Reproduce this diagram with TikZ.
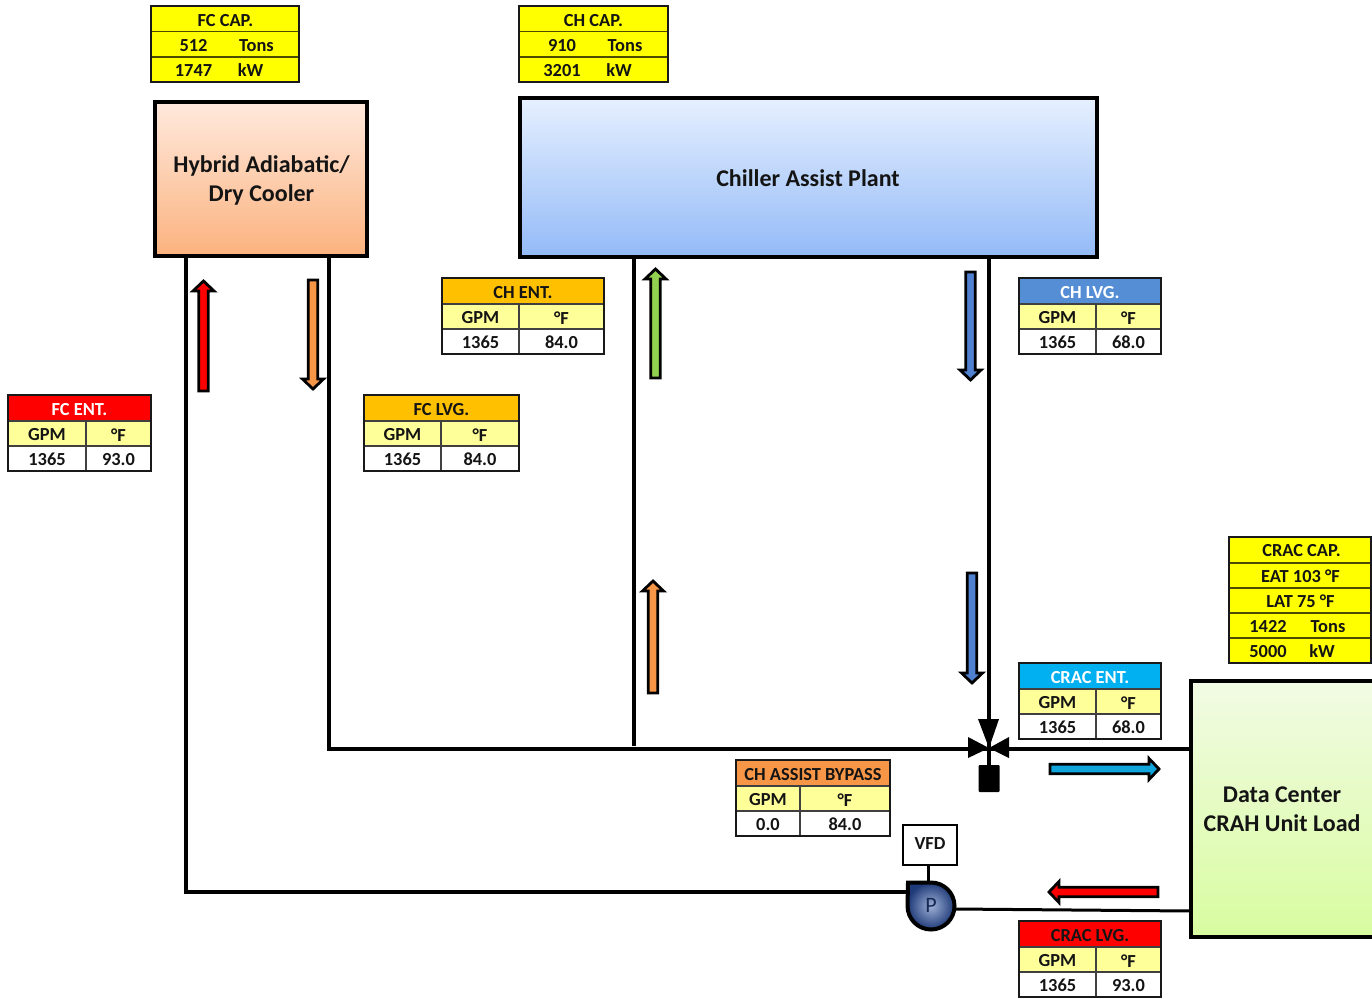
\documentclass[tikz,border=0pt]{standalone}
\usepackage{fontspec}
\setmainfont{Carlito}
\usetikzlibrary{shadows}
\definecolor{tblyellow}{HTML}{FFFF99}
\definecolor{capyellow}{HTML}{FFFF00}
\definecolor{hdrorange}{HTML}{FFC000}
\definecolor{hdrblue}{HTML}{558ED5}
\definecolor{hdrcyan}{HTML}{00B0F0}
\definecolor{hdrbyp}{HTML}{F79646}
\definecolor{hdrred}{HTML}{FF0000}
\definecolor{txtdark}{HTML}{141414}
\definecolor{arrorange}{HTML}{F79646}
\definecolor{arrgreen}{HTML}{92D050}
\definecolor{arrblue}{HTML}{4F81D0}
\definecolor{arrcyan}{HTML}{0FA5DC}
\definecolor{hybtop}{HTML}{FFE9DD}
\definecolor{hybbot}{HTML}{FBB27E}
\definecolor{chtop}{HTML}{E6F0FF}
\definecolor{chbot}{HTML}{93BAF7}
\definecolor{dctop}{HTML}{F2FBE4}
\definecolor{dcbot}{HTML}{D8FCA0}
\definecolor{pumpdark}{HTML}{1F3A78}
\definecolor{pumplight}{HTML}{9DB0D6}
\tikzset{
  pipe/.style={line width=3.4pt,black},
  thinpipe/.style={line width=3pt,black},
  cellrule/.style={line width=1.2pt,black!75},
  caprule/.style={line width=1.6pt,black!70!capyellow},
  outerrule/.style={line width=2.4pt,black!90},
  celltext/.style={font=\fontsize{18.4}{20}\selectfont\bfseries,text=txtdark,inner sep=0pt},
  plantbox/.style={draw=black,line width=4pt,inner sep=0pt,
    drop shadow={opacity=.3,shadow xshift=1.5pt,shadow yshift=-1.5pt}},
  plantlabel/.style={font=\fontsize{24}{29}\selectfont\bfseries,text=txtdark,align=center,inner sep=0pt},
  blockarrow/.style={draw=black,line width=2.8pt,miter limit=4},
}
\def\flowvals#1/#2\relax{\def\gpmv{#1}\def\tempv{#2}}
% name, x1, xmid, x2, ytop, head fill, head text colour, head, gpm/temp
\newcommand{\flowtable}[9]{%
  \flowvals#9\relax
  \fill[#6] (#2,#5) rectangle (#4,#5+26);
  \fill[tblyellow] (#2,#5+26) rectangle (#4,#5+51);
  \fill[white] (#2,#5+51) rectangle (#4,#5+76);
  \draw[cellrule] (#2,#5+26) -- (#4,#5+26) (#2,#5+51) -- (#4,#5+51) (#3,#5+26) -- (#3,#5+76);
  \draw[outerrule] (#2,#5) rectangle (#4,#5+76);
  \node[celltext,text=#7] (#1h) at ({(#2+#4)/2},#5+15) {#8};
  \node[celltext] (#1a) at ({(#2+#3)/2},#5+40) {GPM};
  \node[celltext] (#1b) at ({(#3+#4)/2},#5+40) {°F};
  \node[celltext] (#1c) at ({(#2+#3)/2},#5+64.5) {\gpmv};
  \node[celltext] (#1d) at ({(#3+#4)/2},#5+64.5) {\tempv};
}
% x1, x2, ytop, ybottom
\newcommand{\capframe}[4]{%
  \fill[capyellow] (#1,#3) rectangle (#2,#4);
}
\newcommand{\uparr}[4]{% centre x, tip y, bottom y, colour
  \draw[blockarrow,fill=#4] (#1-4.7,#3) -- (#1-4.7,#2+10) -- (#1-10.5,#2+10) -- (#1,#2) -- (#1+10.5,#2+10) -- (#1+4.7,#2+10) -- (#1+4.7,#3) -- cycle;
}
\newcommand{\downarr}[4]{% centre x, tip y, top y, colour
  \draw[blockarrow,fill=#4] (#1-4.7,#3) -- (#1-4.7,#2-10) -- (#1-10.5,#2-10) -- (#1,#2) -- (#1+10.5,#2-10) -- (#1+4.7,#2-10) -- (#1+4.7,#3) -- cycle;
}
\begin{document}
\begin{tikzpicture}[x=1pt,y=-1pt]
\useasboundingbox (0,0) rectangle (1372,998);

% pipes (drawn first, boxes sit on top)
\coordinate (fcret) at (186,258);
\coordinate (fcsup) at (329,258);
\coordinate (chret) at (634,258);
\coordinate (chsup) at (989,258);
\coordinate (bend1) at (186,892);
\coordinate (bend2) at (329,749);
\coordinate (tee) at (634,746);
\coordinate (valvec) at (989,748);
\coordinate (dcin) at (1191,749);
\coordinate (dcout) at (1191,911);
\coordinate (pumpin) at (908,892);
\coordinate (pumpout) at (955,909);
\draw[pipe] (fcret) -- (bend1) -- (pumpin);
\draw[pipe] (fcsup) -- (bend2) -- (dcin);
\draw[pipe] (chret) -- (tee);
\draw[pipe] (chsup) -- (valvec);
\draw[thinpipe] (pumpout) -- (dcout);

% plant boxes
\node[plantbox,top color=hybtop,bottom color=hybbot,minimum width=212pt,minimum height=154pt] (hybrid) at (261,179) {};
\node[plantlabel] (hybridlabel) at (261.5,180.5) {Hybrid Adiabatic/\\Dry Cooler};
\node[plantbox,top color=chtop,bottom color=chbot,minimum width=577pt,minimum height=159pt] (chiller) at (808.5,177.5) {};
\node[plantlabel] (chillerlabel) at (808,178) {Chiller Assist Plant};
\node[plantbox,top color=dctop,bottom color=dcbot,minimum width=184pt,minimum height=256pt] (dc) at (1283,809) {};
\node[plantlabel] (dclabel) at (1282,809.5) {Data Center\\CRAH Unit Load};

% flow tables
\flowtable{fcent}{8}{86}{151}{395}{hdrred}{white}{FC ENT.}{1365/93.0}
\flowtable{fclvg}{364}{441}{519}{395}{hdrorange}{txtdark}{FC LVG.}{1365/84.0}
\flowtable{chent}{442}{519}{604}{278}{hdrorange}{txtdark}{CH ENT.}{1365/84.0}
\flowtable{chlvg}{1019}{1096}{1161}{278}{hdrblue}{white}{CH LVG.}{1365/68.0}
\flowtable{cracent}{1019}{1096}{1161}{663}{hdrcyan}{white}{CRAC ENT.}{1365/68.0}
\flowtable{bypass}{736}{800}{890}{760}{hdrbyp}{txtdark}{CH ASSIST BYPASS}{0.0/84.0}
\flowtable{craclvg}{1019}{1096}{1161}{921}{hdrred}{txtdark}{CRAC LVG.}{1365/93.0}

% capacity tables
\capframe{151}{299}{6}{82}
\draw[caprule] (151,31.5) -- (299,31.5) (151,57) -- (299,57);
\draw[outerrule] (151,6) rectangle (299,82);
\node[celltext] (fccap) at (225.5,20.5) {FC CAP.};
\node[celltext] (fc1a) at (193.5,45.5) {512};
\node[celltext] (fc1b) at (256.5,45.5) {Tons};
\node[celltext] (fc2a) at (193.5,70.5) {1747};
\node[celltext] (fc2b) at (250.5,70.5) {kW};

\capframe{519}{668}{6}{82}
\draw[caprule] (519,31.5) -- (668,31.5) (519,57) -- (668,57);
\draw[outerrule] (519,6) rectangle (668,82);
\node[celltext] (chcap) at (593.5,20.5) {CH CAP.};
\node[celltext] (ch1a) at (562,45.5) {910};
\node[celltext] (ch1b) at (625,45.5) {Tons};
\node[celltext] (ch2a) at (562,70.5) {3201};
\node[celltext] (ch2b) at (619,70.5) {kW};

\capframe{1229}{1371}{537}{663}
\draw[caprule] (1229,563) -- (1371,563) (1229,588) -- (1371,588) (1229,613) -- (1371,613) (1229,638) -- (1371,638);
\draw[outerrule] (1229,537) rectangle (1371,663);
\node[celltext] (craccap) at (1301.5,551) {CRAC CAP.};
\node[celltext] (eat) at (1300.5,576.5) {EAT 103 °F};
\node[celltext] (lat) at (1300.5,601.5) {LAT 75 °F};
\node[celltext] (cr1a) at (1268,626.5) {1422};
\node[celltext] (cr1b) at (1328,626.5) {Tons};
\node[celltext] (cr2a) at (1268,651.5) {5000};
\node[celltext] (cr2b) at (1322,651.5) {kW};

% flow arrows
\uparr{203.5}{281}{391}{red}
\downarr{313}{389}{280}{arrorange}
\uparr{655.5}{269}{378}{arrgreen}
\downarr{970.5}{380}{272}{arrblue}
\uparr{653}{581}{693}{arrorange}
\downarr{972}{683}{573}{arrblue}
\draw[blockarrow,fill=arrcyan] (1050,764.3) -- (1149,764.3) -- (1149,758.5) -- (1159,769) -- (1149,779.5) -- (1149,773.7) -- (1050,773.7) -- cycle;
\draw[blockarrow,fill=red] (1158,887.3) -- (1059,887.3) -- (1059,881.5) -- (1049,892) -- (1059,902.5) -- (1059,896.7) -- (1158,896.7) -- cycle;

% three-way valve and actuator
\fill[black] (978,719) -- (999,719) -- (989,748) -- cycle;
\fill[black] (968,737) -- (989,748) -- (968,758) -- cycle;
\fill[black] (1009,737) -- (989,748) -- (1009,758) -- cycle;
\node[fill=black,minimum width=21pt,minimum height=27pt,inner sep=0pt,rounded corners=1pt] (actuator) at (989,778.5) {};
\draw[pipe] (valvec) -- (actuator);

% VFD and pump
\node[draw=black,line width=2.4pt,fill=white,minimum width=54pt,minimum height=40pt,inner sep=0pt] (vfd) at (930,845) {};
\node[celltext] (vfdlabel) at (930,843.5) {VFD};
\coordinate (pumptop) at (928,882);
\draw[thinpipe] (vfd.south -| pumptop) -- (pumptop);
\draw[line width=4pt,black,inner color=pumplight,outer color=pumpdark] (908,882.5) -- (931,882.5) arc[start angle=-90,end angle=180,radius=23.5] -- cycle;
\node[font=\fontsize{22}{24}\selectfont,text=pumpdark!70!black,inner sep=0pt] (pumpp) at (931,905.5) {P};
\end{tikzpicture}
\end{document}
